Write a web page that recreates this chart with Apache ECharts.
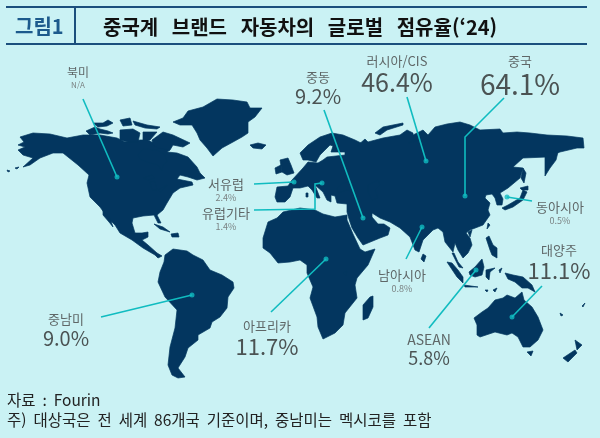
<![CDATA[<!DOCTYPE html>
<html lang="ko">
<head>
<meta charset="UTF-8">
<title>중국계 브랜드 자동차의 글로벌 점유율</title>
<script src="https://cdn.jsdelivr.net/npm/echarts@6/dist/echarts.min.js"></script>
<style>html,body{margin:0;padding:0;background:#caf2f4}</style>
</head>
<body>
<div id="chart" style="width:600px;height:438px"></div>
<script>
// values read off the picture
const regions = ['북미', '중동', '러시아/CIS', '중국', '서유럽', '유럽기타', '동아시아', '대양주', '남아시아', 'ASEAN', '아프리카', '중남미'];
const shares = [null, 9.2, 46.4, 64.1, 2.4, 1.4, 0.5, 11.1, 0.8, 5.8, 11.7, 9.0];

// callout layout, same order as regions
const labelAt = [[78, 77], [318, 88], [397, 74], [520, 76], [226, 189], [226, 218], [560, 212], [559, 262], [402, 280], [429, 349], [267, 338], [66, 330]];
const nameSize = [12, 13, 13, 13, 13, 13, 13, 13, 13, 14, 13, 13];
const valueSize = [8, 20, 25, 28, 9, 9, 9, 22, 9, 18, 22, 20];
// each leader ends on its dot
const leaders = [
  [[83, 99], [117, 177]],
  [[324, 110], [363, 218]],
  [[407, 97], [426, 161]],
  [[504, 98], [465, 137], [465, 196]],
  [[254, 184], [294, 182]],
  [[254, 210], [315, 209], [315, 184], [322, 183]],
  [[532, 201], [507, 197]],
  [[542, 286], [512, 317]],
  [[406, 259], [422, 227]],
  [[429, 328], [476, 270]],
  [[271, 312], [326, 259]],
  [[101, 317], [192, 295]]
];

// land shapes traced from the picture, map units are picture pixels
const landShapes = [
  // north and central america, with hudson bay, lakes and gulf of california as holes
  [[[33,133],[50,134],[67,138],[83,135],[100,135],[117,138],[125,142],[140,140],[148,140],[157,145],[163,145],[170,150],[167,152],[177,153],[188,157],[197,167],[200,173],[205,178],[197,180],[188,177],[180,175],[177,179],[192,182],[193,185],[180,188],[173,193],[167,203],[163,210],[157,215],[161,223],[158,223],[154,215],[143,216],[133,218],[132,223],[135,233],[142,233],[148,232],[148,237],[142,240],[148,245],[157,253],[162,256],[158,258],[155,255],[143,248],[132,240],[120,233],[115,225],[108,218],[100,207],[90,197],[87,183],[89,175],[78,165],[68,157],[63,153],[53,153],[40,158],[30,165],[23,167],[33,158],[23,155],[18,150],[25,147],[18,145],[24,142],[20,137]],
   [[138,155],[143,149],[157,150],[165,155],[167,162],[163,165],[162,171],[158,165],[147,162],[140,159]],
   [[143,178],[152,175],[155,178],[148,180]],
   [[150,182],[155,181],[157,190],[152,190]],
   [[158,190],[167,185],[165,188],[160,192]],
   [[103,210],[110,218],[113,227],[109,222],[103,215]]],
  [[[152,140],[163,132],[173,135],[190,143],[183,147],[173,145],[170,150],[158,148],[153,145]]],
  [[[86,131],[95,127],[100,129],[108,131],[113,133],[108,134],[100,133],[90,135]]],
  [[[93,123],[103,123],[108,120],[113,123],[107,126],[98,127]]],
  [[[120,130],[133,129],[140,133],[138,142],[128,142],[120,140]]],
  [[[120,120],[130,118],[132,125],[123,126]]],
  [[[133,121],[147,125],[160,127],[157,129],[145,128],[135,125]]],
  [[[143,132],[157,132],[150,140],[143,140]]],
  // greenland, iceland
  [[[173,122],[183,118],[188,111],[203,107],[217,99],[233,100],[247,102],[250,108],[262,108],[255,117],[248,122],[248,133],[242,137],[233,142],[222,148],[213,156],[207,148],[200,140],[197,133],[192,125],[180,125]]],
  [[[250,145],[258,143],[266,145],[262,149],[253,148]]],
  // caribbean, aleutians
  [[[154,224],[163,227],[170,232],[160,229]]],
  [[[171,234],[178,233],[179,237],[172,237]]],
  [[[7,170],[10,171],[8,172]]],
  [[[15,168],[19,167],[17,169]]],
  // south america
  [[[165,255],[173,249],[187,251],[193,255],[203,260],[210,270],[222,275],[233,282],[234,288],[228,297],[227,308],[220,317],[212,322],[210,328],[198,335],[198,340],[188,348],[185,357],[178,368],[185,377],[178,378],[172,375],[168,365],[170,347],[175,328],[177,310],[165,297],[158,282],[160,272],[164,262]]],
  // africa, madagascar
  [[[268,222],[277,218],[283,212],[300,208],[315,210],[323,214],[335,217],[347,215],[347,220],[353,234],[360,249],[365,252],[375,249],[368,265],[357,278],[355,285],[357,298],[345,313],[343,325],[335,333],[323,339],[318,327],[317,317],[310,298],[313,287],[307,273],[307,265],[300,260],[290,262],[278,263],[270,253],[263,248],[263,238]],
   [[343,273],[347,271],[346,276]]],
  [[[363,305],[370,297],[373,296],[373,307],[368,318],[363,320]]],
  // eurasia, with black sea, caspian and ob gulf as holes
  [[[300,153],[308,145],[320,137],[332,133],[343,135],[355,140],[361,143],[357,146],[365,139],[368,142],[383,138],[400,135],[407,130],[413,133],[413,135],[423,130],[428,135],[435,127],[447,124],[460,122],[470,125],[480,130],[500,129],[503,133],[517,132],[530,133],[547,135],[567,136],[583,138],[584,148],[577,148],[560,152],[547,157],[523,158],[513,167],[523,168],[520,178],[508,188],[500,193],[503,199],[502,205],[497,205],[495,198],[492,194],[486,195],[485,198],[490,203],[488,210],[490,215],[483,225],[470,230],[466,233],[470,238],[472,245],[468,253],[463,258],[458,250],[455,243],[453,252],[452,253],[445,242],[443,232],[438,228],[433,230],[423,240],[419,252],[415,250],[410,237],[400,228],[390,222],[380,218],[372,213],[372,217],[378,224],[384,224],[390,228],[388,235],[380,238],[363,245],[358,238],[352,228],[349,219],[347,212],[347,204],[337,203],[335,196],[331,195],[331,202],[327,200],[323,192],[315,185],[320,198],[317,198],[312,190],[308,186],[300,188],[293,188],[290,197],[285,202],[277,202],[275,197],[277,187],[288,186],[292,180],[303,168],[308,162],[318,163],[323,160],[327,157],[345,155],[345,152],[331,152],[333,146],[330,145],[320,155],[316,162],[308,160],[303,160]],
   [[337,188],[343,183],[350,182],[353,185],[358,188],[355,193],[347,190],[338,193]],
   [[368,185],[378,180],[380,185],[375,190],[378,198],[372,200],[368,192]],
   [[408,143],[418,138],[423,135],[416,141]]],
  [[[375,133],[383,127],[403,123],[403,125],[387,130],[380,135]]],
  [[[545,152],[558,152],[556,160],[550,168],[545,176],[545,170]]],
  // uk, ireland, sardinia
  [[[280,160],[288,158],[291,165],[294,173],[287,175],[282,172]]],
  [[[275,168],[281,165],[282,172],[276,174]]],
  [[[306,193],[308,193],[308,197],[306,197]]],
  // japan, sakhalin, taiwan, hainan, philippines, sri lanka
  [[[502,208],[508,205],[520,198],[523,190],[527,192],[523,200],[513,207],[505,210]]],
  [[[520,188],[528,186],[528,190],[522,190]]],
  [[[523,168],[526,173],[524,183],[521,178]]],
  [[[488,223],[490,225],[487,229]]],
  [[[468,232],[472,230],[470,237]]],
  [[[486,238],[489,236],[493,245],[497,248],[497,258],[492,255],[490,250]]],
  [[[423,254],[426,256],[424,262],[421,259]]],
  // south east asia
  [[[452,253],[454,253],[458,262],[463,268],[459,267]]],
  [[[447,262],[452,263],[458,270],[463,277],[463,283],[457,277]]],
  [[[464,285],[478,287],[477,288],[465,287]]],
  [[[469,272],[475,267],[482,259],[484,267],[482,275],[475,277],[470,275]]],
  [[[486,270],[495,268],[490,272],[489,280],[486,277]]],
  [[[499,270],[502,268],[500,273]]],
  [[[493,290],[497,288],[495,292]]],
  [[[485,290],[488,290],[487,292]]],
  // oceania
  [[[505,273],[513,275],[523,277],[532,285],[535,292],[528,288],[522,288],[515,282],[508,279]]],
  [[[474,318],[482,312],[488,308],[495,300],[503,298],[507,295],[515,298],[522,292],[524,300],[532,307],[538,317],[543,330],[538,340],[530,347],[523,347],[518,337],[512,333],[507,335],[495,332],[480,337],[477,335],[477,325]]],
  [[[527,352],[533,351],[531,356]]],
  [[[563,358],[575,350],[577,353],[568,362]]],
  [[[575,340],[582,345],[577,350]]],
  [[[560,313],[563,315],[561,316]]],
  [[[582,306],[585,303],[583,307]]]
];

const KR = '"Noto Sans CJK KR"';
const NAVY = '#03365f';
const TEAL = '#10bcc0';
const GREY = '#444444';

echarts.registerMap('land', {
  type: 'FeatureCollection',
  features: landShapes.map((rings, i) => ({
    type: 'Feature',
    properties: { name: 'land' + i },
    geometry: { type: 'Polygon', coordinates: rings }
  }))
});

const chart = echarts.init(document.getElementById('chart'));

chart.setOption({
  backgroundColor: '#caf2f4',
  animation: false,
  geo: {
    map: 'land',
    silent: true,
    roam: false,
    left: 0, top: 0, width: 600, height: 438,
    boundingCoords: [[0, 0], [600, 438]],
    projection: { project: p => p, unproject: p => p },
    itemStyle: { areaColor: NAVY, borderColor: NAVY, borderWidth: 0.7 },
    label: { show: false }
  },
  series: [
    {
      type: 'lines',
      coordinateSystem: 'geo',
      polyline: true,
      silent: true,
      z: 3,
      lineStyle: { color: TEAL, width: 1.6, opacity: 1 },
      data: leaders.map(coords => ({ coords }))
    },
    {
      type: 'scatter',
      coordinateSystem: 'geo',
      silent: true,
      z: 4,
      symbolSize: 5,
      itemStyle: { color: TEAL },
      data: leaders.map(l => l[l.length - 1])
    },
    {
      type: 'scatter',
      coordinateSystem: 'geo',
      silent: true,
      z: 5,
      symbolSize: 0,
      data: regions.map((name, i) => ({
        value: labelAt[i],
        label: {
          show: true,
          position: 'inside',
          formatter: '{n|' + name + '}\n{v|' + (shares[i] === null ? 'N/A' : shares[i].toFixed(1) + '%') + '}',
          rich: {
            n: { fontFamily: KR, fontSize: nameSize[i], color: GREY, lineHeight: nameSize[i] + 4, align: 'center' },
            v: { fontFamily: KR, fontSize: valueSize[i], color: valueSize[i] < 10 ? '#666666' : '#2a2a2a', lineHeight: valueSize[i] + 1, align: 'center' }
          }
        }
      }))
    }
  ],
  graphic: [
    { type: 'rect', silent: true, shape: { x: 6, y: 6, width: 581, height: 2 }, style: { fill: '#1b4f7d' } },
    { type: 'rect', silent: true, shape: { x: 6, y: 43, width: 581, height: 2 }, style: { fill: '#1b4f7d' } },
    { type: 'rect', silent: true, shape: { x: 74, y: 7, width: 2, height: 37 }, style: { fill: '#1b4f7d' } },
    { type: 'text', silent: true, x: 15, y: 26, style: { text: '그림1', font: 'bold 20px ' + KR, fill: '#1c5a8c', textVerticalAlign: 'middle' } },
    { type: 'text', silent: true, x: 103, y: 27, style: { text: '중국계   브랜드   자동차의   글로벌   점유율(‘24)', font: 'bold 20px ' + KR, fill: '#111111', textVerticalAlign: 'middle' } },
    { type: 'text', silent: true, x: 7, y: 400, style: { text: '자료  :  Fourin', font: '15.5px ' + KR, fill: '#222222', textVerticalAlign: 'middle' } },
    { type: 'text', silent: true, x: 7, y: 420, style: { text: '주)  대상국은  전  세계  86개국  기준이며,  중남미는  멕시코를  포함', font: '15.5px ' + KR, fill: '#222222', textVerticalAlign: 'middle' } }
  ]
});
</script>
</body>
</html>
]]>
